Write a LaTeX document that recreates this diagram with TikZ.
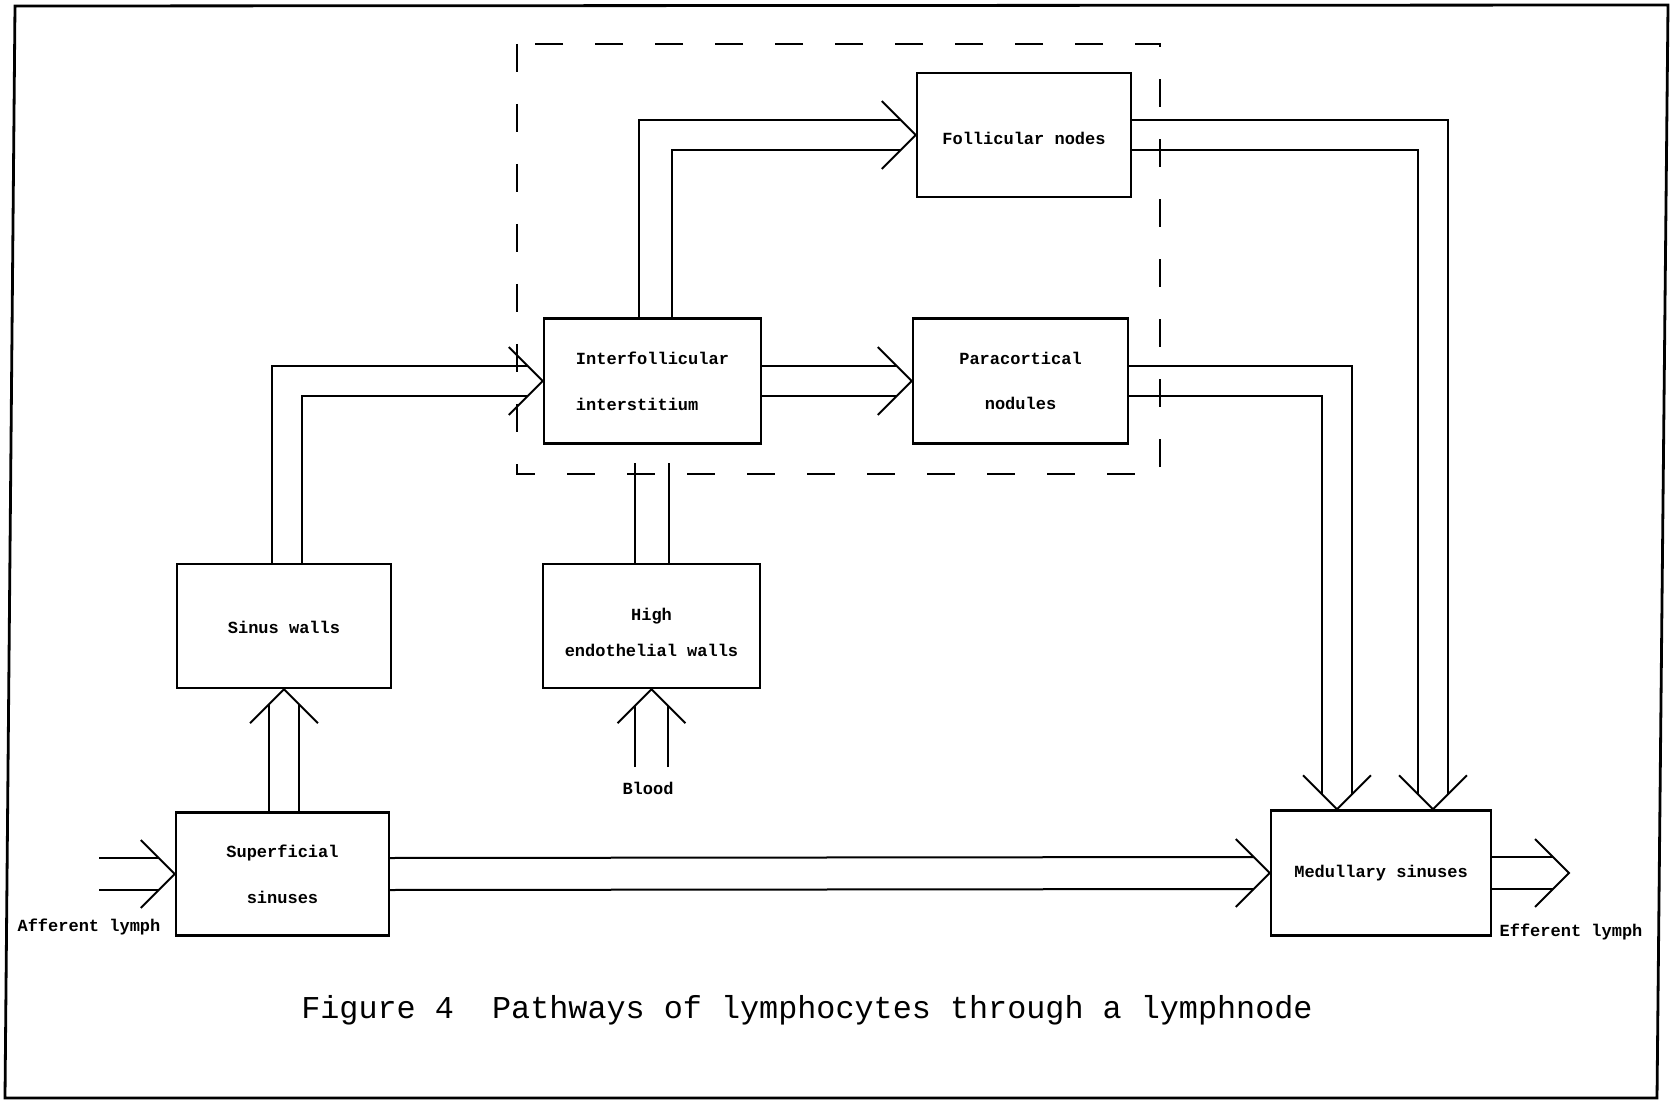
\documentclass[tikz,border=0pt]{standalone}
\usepackage{fontspec}
\newfontfamily\labfont{Liberation Mono}
\usetikzlibrary{calc}
% chevron heads for the double-line pathways
\newcommand\headE[1]{\draw[conn] ($(#1)+(-34,-34)$) -- (#1) -- ($(#1)+(-34,34)$);}
\newcommand\headS[1]{\draw[conn] ($(#1)+(-34,-34)$) -- (#1) -- ($(#1)+(34,-34)$);}
\newcommand\headN[1]{\draw[conn] ($(#1)+(-34,34)$) -- (#1) -- ($(#1)+(34,34)$);}
\begin{document}
\begin{tikzpicture}[x=0.5pt, y=-0.5pt,
  box/.style={draw, line width=1.2pt, inner sep=0pt, align=center,
    font=\labfont\bfseries\fontsize{8.5pt}{10pt}\selectfont},
  lab/.style={inner sep=0pt, font=\labfont\bfseries\fontsize{8.5pt}{10pt}\selectfont},
  conn/.style={line width=1pt, line join=miter},
  zone/.style={line width=1.1pt, dash pattern=on 14pt off 16pt},
]
\useasboundingbox (0,0) rectangle (1670,1101);
% page frame
\draw[line width=1.4pt] (15,6) -- (1668,5) -- (1657,1098) -- (5,1098) -- cycle;

% cortex region
\draw[zone] (517,44) rectangle (1160,474);

% compartments
\node[box, minimum width=107pt, minimum height=62pt] (fol) at (1024,135) {\rule{0pt}{10pt}Follicular nodes};
\node[box, minimum width=108.5pt, minimum height=62.5pt, align=left] (inter) at (652.5,381) {Interfollicular\\[13pt]interstitium};
\node[box, minimum width=107.5pt, minimum height=62.5pt] (para) at (1020.5,381) {Paracortical\\[12.5pt]nodules};
\node[box, minimum width=107pt, minimum height=62pt] (sinw) at (284,626) {\rule{0pt}{8pt}Sinus walls};
\node[box, minimum width=108.5pt, minimum height=62pt] (hev) at (651.5,626) {\rule{0pt}{13pt}High\\[8pt]endothelial walls};
\node[box, minimum width=106.5pt, minimum height=61.5pt] (sup) at (282.5,874) {Superficial\\[13pt]sinuses};
\node[box, minimum width=110pt, minimum height=62.5pt] (med) at (1381,873) {Medullary sinuses};

% free labels
\node[lab] (aff) at (89,927) {Afferent lymph};
\node[lab] (eff) at (1571,932) {Efferent lymph};
\node[lab] (blood) at (648,788) {Blood};
\node[inner sep=0pt, font=\labfont\fontsize{15.9pt}{18pt}\selectfont] (cap) at (807,1010)
  {Figure~4~~Pathways of lymphocytes through a lymphnode};

% afferent lymph -> superficial sinuses
\coordinate (affIn) at (99,874);
\draw[conn] ($(affIn)+(0,-16)$) -- ($(sup.west)+(-16,-16)$);
\draw[conn] ($(affIn)+(0,16)$) -- ($(sup.west)+(-16,16)$);
\headE{sup.west}

% superficial sinuses -> medullary sinuses
\draw[conn] ($(sup.east)+(0,-16)$) -- ($(med.west)+(-16,-16)$);
\draw[conn] ($(sup.east)+(0,16)$) -- ($(med.west)+(-16,16)$);
\headE{med.west}

% medullary sinuses -> efferent lymph
\coordinate (effTip) at (1569,873);
\draw[conn] ($(med.east)+(0,-16)$) -- ($(effTip)+(-16,-16)$);
\draw[conn] ($(med.east)+(0,16)$) -- ($(effTip)+(-16,16)$);
\headE{effTip}

% superficial sinuses -> sinus walls
\draw[conn] ($(sinw.south |- sup.north)+(-15,0)$) -- ($(sinw.south)+(-15,15)$);
\draw[conn] ($(sinw.south |- sup.north)+(15,0)$) -- ($(sinw.south)+(15,15)$);
\headN{sinw.south}

% sinus walls -> interfollicular interstitium
\draw[conn] ($(sinw.north)+(-12,0)$) |- ($(inter.west)+(-15,-15)$);
\draw[conn] ($(sinw.north)+(18,0)$) |- ($(inter.west)+(-15,15)$);
\headE{inter.west}

% interfollicular interstitium -> follicular nodes
\draw[conn] ($(inter.north)+(-14,0)$) |- ($(fol.west)+(-15,-15)$);
\draw[conn] ($(inter.north)+(19,0)$) |- ($(fol.west)+(-15,15)$);
\headE{fol.west}

% interfollicular interstitium -> paracortical nodules
\draw[conn] ($(inter.east)+(0,-15)$) -- ($(para.west)+(-15,-15)$);
\draw[conn] ($(inter.east)+(0,15)$) -- ($(para.west)+(-15,15)$);
\headE{para.west}

% high endothelial walls up towards the interstitium
\coordinate (hevEnd) at ($(inter.south)+(0,18)$);
\draw[conn] ($(hev.north)+(-16.5,0)$) -- ($(hev.north |- hevEnd)+(-16.5,0)$);
\draw[conn] ($(hev.north)+(17.5,0)$) -- ($(hev.north |- hevEnd)+(17.5,0)$);

% blood -> high endothelial walls
\coordinate (bloodIn) at (651.5,767);
\draw[conn] ($(bloodIn)+(-16.5,0)$) -- ($(hev.south)+(-16.5,16.5)$);
\draw[conn] ($(bloodIn)+(16.5,0)$) -- ($(hev.south)+(16.5,16.5)$);
\headN{hev.south}

% follicular nodes -> medullary sinuses
\coordinate (medIn2) at ($(med.north)+(52,0)$);
\draw[conn] ($(fol.east)+(0,-15)$) -| ($(medIn2)+(15,-15)$);
\draw[conn] ($(fol.east)+(0,15)$) -| ($(medIn2)+(-15,-15)$);
\headS{medIn2}

% paracortical nodules -> medullary sinuses
\coordinate (medIn1) at ($(med.north)+(-44,0)$);
\draw[conn] ($(para.east)+(0,-15)$) -| ($(medIn1)+(15,-15)$);
\draw[conn] ($(para.east)+(0,15)$) -| ($(medIn1)+(-15,-15)$);
\headS{medIn1}
\end{tikzpicture}
\end{document}
